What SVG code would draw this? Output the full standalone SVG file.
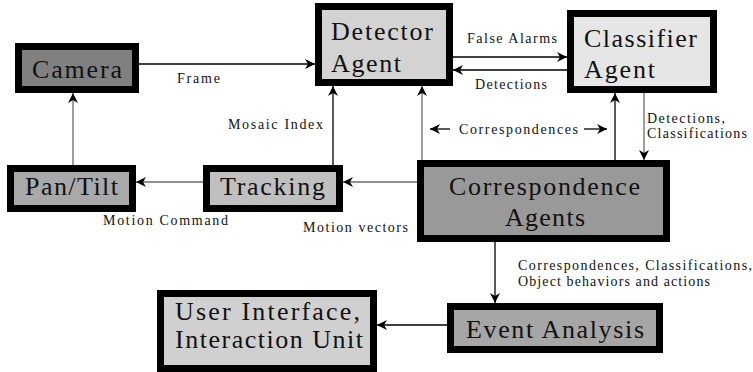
<svg xmlns="http://www.w3.org/2000/svg" width="753" height="372" viewBox="0 0 753 372">
  <style>
    .box { stroke: #000; stroke-width: 7; }
    .big { font-family: "Liberation Serif", "Times New Roman", serif; font-size: 26px; fill: #111; }
    .lbl { font-family: "Liberation Serif", "Times New Roman", serif; font-size: 14px; fill: #111; }
    .ln { fill: none; stroke: #000; stroke-width: 1.3; }
    .gr { fill: none; stroke: #6a6a6a; stroke-width: 1.3; }
  </style>
  <defs>
    <marker id="arr" markerUnits="userSpaceOnUse" markerWidth="11" markerHeight="11" refX="10" refY="5" orient="auto" viewBox="0 0 11 11">
      <path d="M0,0 L10,5 L0,10 L3,5 z" fill="#000"/>
    </marker>
  </defs>
  <rect width="753" height="372" fill="#fff"/>

  <!-- connectors -->
  <g id="connectors">
    <path class="ln" d="M139,64 H315" marker-end="url(#arr)"/>
    <path class="gr" d="M73,165 V93" marker-end="url(#arr)"/>
    <path class="gr" d="M203,182 H136" marker-end="url(#arr)"/>
    <path class="gr" d="M417,182 H343" marker-end="url(#arr)"/>
    <path class="ln" d="M333,165 V86" marker-end="url(#arr)"/>
    <path class="gr" d="M422,160 V86" marker-end="url(#arr)"/>
    <path class="ln" d="M615,160 V93" marker-end="url(#arr)"/>
    <path class="gr" d="M644,93 V160" marker-end="url(#arr)"/>
    <path class="ln" d="M453,57 H567" marker-end="url(#arr)"/>
    <path class="ln" d="M567,70 H453" marker-end="url(#arr)"/>
    <path class="ln" d="M450,129 H430" marker-end="url(#arr)"/>
    <path class="ln" d="M584,129 H607" marker-end="url(#arr)"/>
    <path class="ln" d="M495,242 V303" marker-end="url(#arr)"/>
    <path class="ln" d="M447,325 H377" marker-end="url(#arr)"/>

    <text class="lbl" x="177" y="83" textLength="43" lengthAdjust="spacing">Frame</text>
    <text class="lbl" x="228" y="129" textLength="95" lengthAdjust="spacing">Mosaic Index</text>
    <text class="lbl" x="467" y="43" textLength="90" lengthAdjust="spacing">False Alarms</text>
    <text class="lbl" x="475" y="89" textLength="72" lengthAdjust="spacing">Detections</text>
    <text class="lbl" x="459" y="134" textLength="119" lengthAdjust="spacing">Correspondences</text>
    <text class="lbl" x="647" y="123" textLength="78" lengthAdjust="spacing">Detections,</text>
    <text class="lbl" x="647" y="138" textLength="100" lengthAdjust="spacing">Classifications</text>
    <text class="lbl" x="103" y="225" textLength="125" lengthAdjust="spacing">Motion Command</text>
    <text class="lbl" x="303" y="232" textLength="105" lengthAdjust="spacing">Motion vectors</text>
    <text class="lbl" x="518" y="270" textLength="234" lengthAdjust="spacing">Correspondences, Classifications,</text>
    <text class="lbl" x="518" y="286" textLength="192" lengthAdjust="spacing">Object behaviors and actions</text>
  </g>

  <g id="camera">
    <rect class="box" x="18.5" y="46.5" width="117" height="43" fill="#808080"/>
    <text class="big" x="32" y="78" textLength="90" lengthAdjust="spacing">Camera</text>
  </g>
  <g id="detector">
    <rect class="box" x="318.5" y="6.5" width="131" height="76" fill="#d3d3d3"/>
    <text class="big" x="331" y="40" textLength="102" lengthAdjust="spacing">Detector</text>
    <text class="big" x="331" y="72" textLength="70" lengthAdjust="spacing">Agent</text>
  </g>
  <g id="classifier">
    <rect class="box" x="570.5" y="13.5" width="143" height="76" fill="#e6e6e6"/>
    <text class="big" x="584" y="47" textLength="113" lengthAdjust="spacing">Classifier</text>
    <text class="big" x="584" y="78" textLength="71" lengthAdjust="spacing">Agent</text>
  </g>
  <g id="pantilt">
    <rect class="box" x="10.5" y="168.5" width="122" height="40" fill="#a9a9a9"/>
    <text class="big" x="25" y="195" textLength="93" lengthAdjust="spacing">Pan/Tilt</text>
  </g>
  <g id="tracking">
    <rect class="box" x="206.5" y="168.5" width="133" height="40" fill="#c0c0c0"/>
    <text class="big" x="220" y="195" textLength="105" lengthAdjust="spacing">Tracking</text>
  </g>
  <g id="correspondence">
    <rect class="box" x="420.5" y="163.5" width="246" height="75" fill="#999999"/>
    <text class="big" x="449" y="195" textLength="191" lengthAdjust="spacing">Correspondence</text>
    <text class="big" x="505" y="226" textLength="80" lengthAdjust="spacing">Agents</text>
  </g>
  <g id="event">
    <rect class="box" x="450.5" y="306.5" width="209" height="43" fill="#a6a6a6"/>
    <text class="big" x="466" y="338" textLength="178" lengthAdjust="spacing">Event Analysis</text>
  </g>
  <g id="userinterface">
    <rect class="box" x="160.5" y="293.5" width="213" height="75" fill="#d0d0d0"/>
    <text class="big" x="175" y="320" textLength="185" lengthAdjust="spacing">User Interface,</text>
    <text class="big" x="175" y="348" textLength="188" lengthAdjust="spacing">Interaction Unit</text>
  </g>
</svg>
